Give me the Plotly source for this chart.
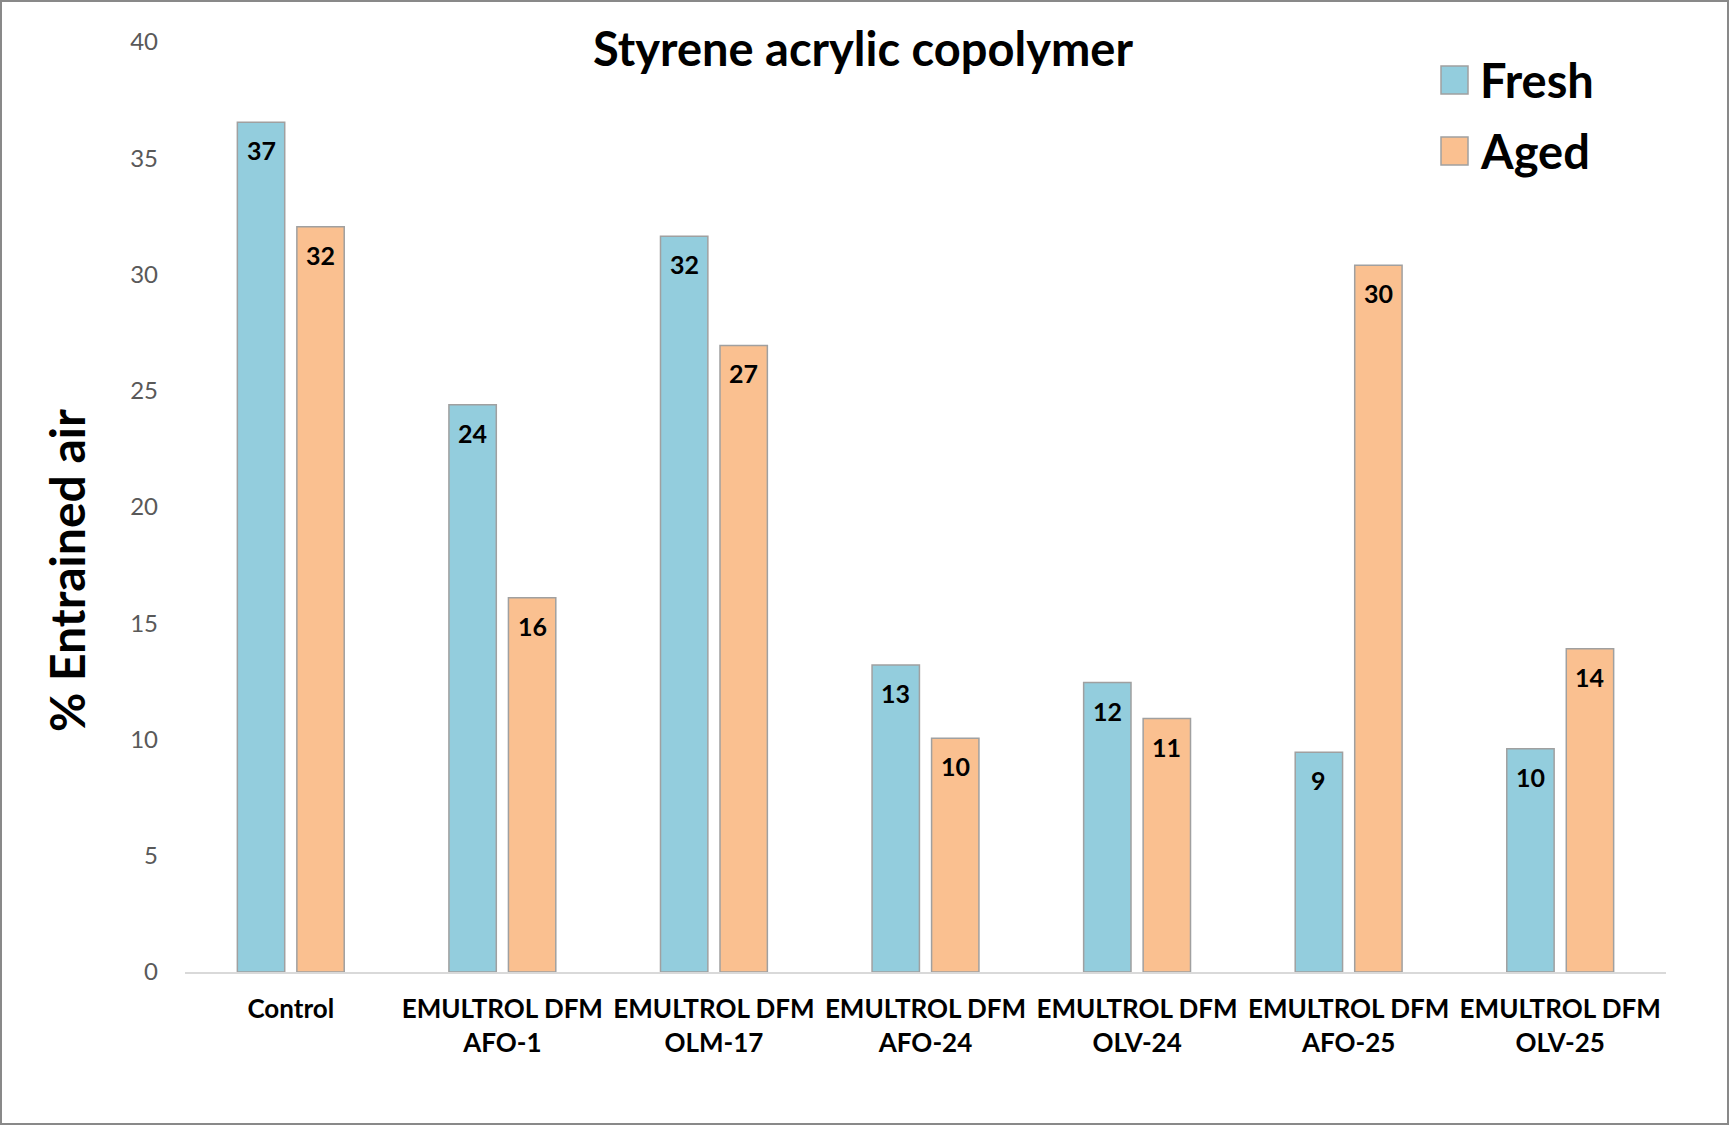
import plotly.graph_objects as go

# ---------------- data ----------------
categories = ["Control", "EMULTROL DFM<br>AFO-1", "EMULTROL DFM<br>OLM-17",
              "EMULTROL DFM<br>AFO-24", "EMULTROL DFM<br>OLV-24",
              "EMULTROL DFM<br>AFO-25", "EMULTROL DFM<br>OLV-25"]
series_names = ["Fresh", "Aged"]
fresh = [36.55, 24.4, 31.65, 13.2, 12.45, 9.45, 9.6]
aged = [32.05, 16.1, 26.95, 10.05, 10.9, 30.4, 13.9]
y_ticks = [0, 5, 10, 15, 20, 25, 30, 35, 40]
title_text = "Styrene acrylic copolymer"
y_title = "% Entrained air"

# ---------------- style ----------------
W, H = 1729, 1125
ML, MR, MT, MB = 185, 63, 42, 153
PW, PH = W - ML - MR, H - MT - MB
FONT = "Lato"
colors = ["#93CDDD", "#FAC090"]
outline = "#A0A0A0"
BARGAP = 0.4375
GROUPGAP = 0.204


def px_x(px):
    return (px - ML) / PW


def px_y(py):
    return (H - MB - py) / PH


fig = go.Figure()
for name, vals, col in zip(series_names, [fresh, aged], colors):
    fig.add_trace(go.Bar(
        name=name, x=categories, y=vals,
        marker=dict(color=col, line=dict(color=outline, width=1.5)),
        showlegend=False, hoverinfo="skip",
    ))

annotations = []
# data labels, centred inside near the bar tops
offset = (1 - BARGAP) / 4
for k, vals in enumerate([fresh, aged]):
    sgn = -1 if k == 0 else 1
    for i, v in enumerate(vals):
        annotations.append(dict(
            x=i + sgn * offset, y=v, xref="x", yref="y",
            text=f"<b>{v:.0f}</b>", showarrow=False,
            yanchor="middle", xanchor="center", yshift=-28,
            font=dict(family=FONT, size=25, color="black"),
        ))

# y axis title
annotations.append(dict(
    x=px_x(66), y=px_y(571), xref="paper", yref="paper",
    text=f"<b>{y_title}</b>", textangle=-90, showarrow=False,
    xanchor="center", yanchor="middle",
    font=dict(family=FONT, size=48, color="black"),
))

# legend (manual, large squares)
shapes = []
leg_rows = [(66, 94), (137, 165)]
for (y0, y1), name, col in zip(leg_rows, series_names, colors):
    shapes.append(dict(type="rect", xref="paper", yref="paper",
                       x0=px_x(1441), x1=px_x(1468), y0=px_y(y1), y1=px_y(y0),
                       fillcolor=col, line=dict(color=outline, width=1.5)))
    annotations.append(dict(
        x=px_x(1478), y=px_y((y0 + y1) / 2), xref="paper", yref="paper",
        text=f"<b>{name}</b>", showarrow=False,
        xanchor="left", yanchor="middle",
        font=dict(family=FONT, size=47, color="black"),
    ))

# outer figure border
shapes.append(dict(type="rect", xref="paper", yref="paper",
                   x0=px_x(1), x1=px_x(W - 1), y0=px_y(H - 1), y1=px_y(1),
                   line=dict(color="#898989", width=2), layer="above"))

fig.update_layout(
    width=W, height=H,
    margin=dict(l=ML, r=MR, t=MT, b=MB, pad=0),
    paper_bgcolor="white", plot_bgcolor="white",
    barmode="group", bargap=BARGAP, bargroupgap=GROUPGAP,
    title=dict(text=f"<b>{title_text}</b>", x=863 / W, y=1 - 50 / H,
               xanchor="center", yanchor="middle", xref="container",
               font=dict(family=FONT, size=47, color="black")),
    xaxis=dict(showgrid=False, showline=True, linecolor="#D9D9D9", linewidth=2,
               ticks="", ticklabelstandoff=13, tickangle=0,
               tickvals=categories,
               ticktext=[f"<b>{c.replace('<br>', '</b><br><b>')}</b>" for c in categories],
               tickfont=dict(family=FONT, size=26, color="black")),
    yaxis=dict(range=[0, 40], tickvals=y_ticks, showgrid=False, showline=False,
               zeroline=False, ticks="", ticklabelstandoff=26,
               tickfont=dict(family=FONT, size=24, color="#595959")),
    annotations=annotations, shapes=shapes,
    showlegend=False,
)

fig.write_html("out.html", config={"displayModeBar": False},
               post_script="document.body.style.margin='0px';")
